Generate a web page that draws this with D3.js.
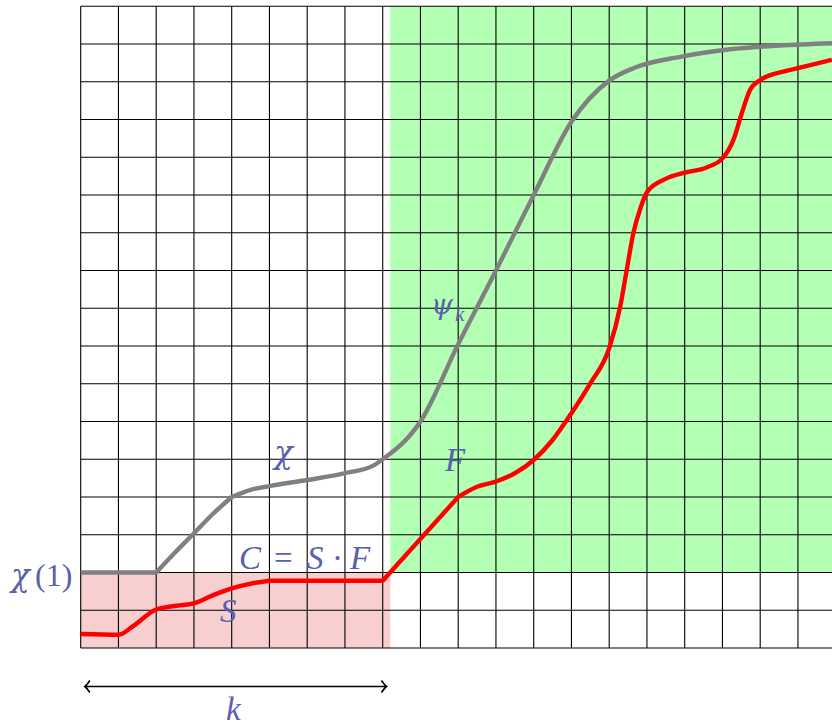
<!DOCTYPE html>
<html>
<head>
<meta charset="utf-8">
<script src="https://cdn.jsdelivr.net/npm/d3@7"></script>
<style>
  html, body { margin: 0; padding: 0; background: #fff; }
  svg { display: block; }
</style>
</head>
<body>
<script>
// Grid extent (cells)
const gridCols = 20;
const gridRows = 17;

// Shaded regions [x0, x1, y0, y1] in grid units
const sRegion = [0, 8.2, 0, 2];
const fRegion = [8.2, 20, 2, 17];

// χ / ψ_k curve (grey)
const greyX = [0, 2, 2.5, 3, 3.5, 4, 4.5, 5, 6, 7, 7.75, 8, 9, 10, 11, 12, 13, 14, 14.64, 15.88, 17.2, 18.5, 19.9];
const greyY = [2, 2, 2.53, 3.04, 3.55, 4, 4.19, 4.29, 4.45, 4.63, 4.83, 5, 6, 8.05, 10, 12, 13.94, 15.03, 15.36, 15.66, 15.86, 15.96, 16.02];
const greyCorners = [2, 4, 8];

// S then F curve (red)
const redX = [0, 1, 1.39, 2, 2.54, 3, 3.51, 4, 4.48, 5, 8, 10, 10.5, 11, 11.5, 12, 12.5, 13, 13.5, 14, 14.29, 14.45, 14.64, 14.84, 15.01, 15.52, 16, 16.58, 17, 17.29, 17.51, 17.73, 18.01, 18.61, 19, 19.9];
const redY = [0.37, 0.35, 0.58, 1.02, 1.12, 1.18, 1.4, 1.58, 1.7, 1.78, 1.78, 4, 4.27, 4.41, 4.63, 4.98, 5.51, 6.22, 7.01, 7.94, 9.04, 9.93, 10.99, 11.69, 12.09, 12.44, 12.59, 12.73, 12.97, 13.46, 14.16, 14.78, 15.05, 15.27, 15.36, 15.58];
const redCorners = [5, 8, 10];

const W = 832, H = 727;
const cell = 37.75;
const left = 80.7, bottom = 648;
const ink = "#5a5fae";
const serif = "'Liberation Serif', 'Times New Roman', serif";
const greek = "'DejaVu Serif', serif";

const svg = d3.select("body").append("svg")
  .attr("width", W).attr("height", H);

const x = d3.scaleLinear().domain([0, gridCols]).range([left, left + gridCols * cell]);
const y = d3.scaleLinear().domain([0, gridRows]).range([bottom, bottom - gridRows * cell]);

// region fills
function region(r, color) {
  svg.append("rect")
    .attr("x", x(r[0])).attr("y", y(r[3]))
    .attr("width", x(r[1]) - x(r[0]))
    .attr("height", y(r[2]) - y(r[3]))
    .attr("fill", color);
}
region(sRegion, "#f7cfcf");
region(fRegion, "#b3ffb3");

// grid
const g = svg.append("g").attr("stroke", "#000").attr("stroke-width", 1.1);
d3.range(gridCols + 1).forEach(i => {
  g.append("line").attr("x1", x(i)).attr("x2", x(i)).attr("y1", y(0)).attr("y2", y(gridRows));
});
d3.range(gridRows + 1).forEach(j => {
  g.append("line").attr("x1", x(0)).attr("x2", x(gridCols)).attr("y1", y(j)).attr("y2", y(j));
});

// curves: split at corner knots, each piece drawn as a monotone spline
function pieces(xs, ys, corners) {
  const pts = xs.map((v, i) => [v, ys[i]]);
  const out = [];
  let cur = [];
  pts.forEach(p => {
    cur.push(p);
    if (corners.includes(p[0]) && cur.length > 1) {
      out.push(cur);
      cur = [p];
    }
  });
  if (cur.length > 1) out.push(cur);
  return out;
}
const line = d3.line().x(d => x(d[0])).y(d => y(d[1])).curve(d3.curveMonotoneX);

function drawCurve(xs, ys, corners, color) {
  const segs = pieces(xs, ys, corners);
  const d = segs.map((s, i) => {
    const p = line(s);
    return i === 0 ? p : p.replace(/^M[^CL]*/, "");
  }).join("");
  svg.append("path")
    .attr("d", d)
    .attr("fill", "none")
    .attr("stroke", color)
    .attr("stroke-width", 4.4)
    .attr("stroke-linejoin", "round")
    .attr("stroke-linecap", "butt");
}
drawCurve(greyX, greyY, greyCorners, "#808080");
drawCurve(redX, redY, redCorners, "#ff0000");

// double-headed arrow for k
const ay = y(-1.02), ax0 = x(0.11), ax1 = x(8.1);
const arr = svg.append("g").attr("stroke", "#000").attr("fill", "none").attr("stroke-width", 1.7);
arr.append("line").attr("x1", ax0).attr("x2", ax1).attr("y1", ay).attr("y2", ay);
arr.append("path").attr("d", `M${ax0 + 5},${ay - 6} Q${ax0 + 1.5},${ay - 1} ${ax0},${ay} Q${ax0 + 1.5},${ay + 1} ${ax0 + 5},${ay + 6}`);
arr.append("path").attr("d", `M${ax1 - 5},${ay - 6} Q${ax1 - 1.5},${ay - 1} ${ax1},${ay} Q${ax1 - 1.5},${ay + 1} ${ax1 - 5},${ay + 6}`);

// labels: each glyph placed on its own so the math spacing holds
function glyph(txt, px, py, opts) {
  opts = opts || {};
  return svg.append("text")
    .attr("x", px).attr("y", py)
    .attr("font-family", opts.family || serif)
    .attr("font-style", opts.upright ? "normal" : "italic")
    .attr("font-size", opts.size || 33)
    .attr("fill", ink)
    .text(txt);
}

// χ(1)
glyph("χ", 11, 586, { family: greek, size: 31 });
glyph("(1)", 35, 586, { upright: true, size: 32 });

// C = S · F
glyph("C", 239, 569);
glyph("=", 274, 569, { upright: true });
glyph("S", 307, 569);
glyph("·", 332, 569, { upright: true });
glyph("F", 350, 569);

glyph("S", 220, 622);
glyph("χ", 274, 463, { family: greek, size: 31 });

glyph("ψ", 431, 314, { family: greek, size: 28 });
glyph("k", 455, 321, { size: 21 });

glyph("F", 445, 471);
glyph("k", 226, 720);
</script>
</body>
</html>
